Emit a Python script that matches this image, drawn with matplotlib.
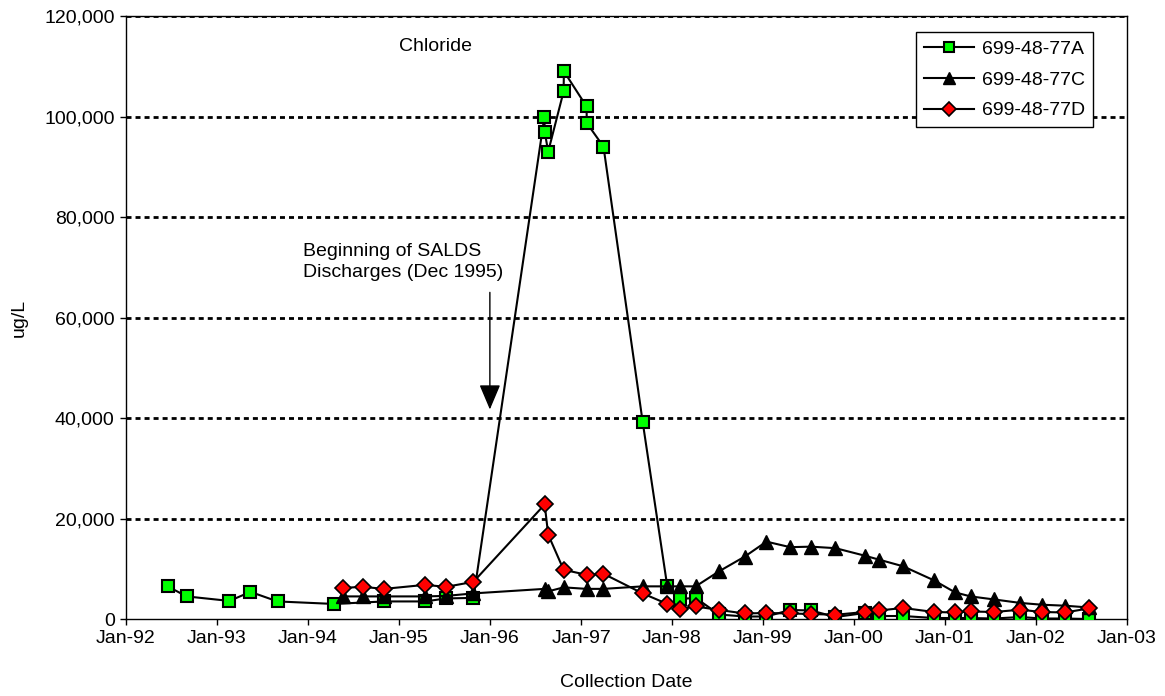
"""
Chloride concentrations at wells 699-48-77A/C/D
"""
import matplotlib
matplotlib.use("Agg")
import matplotlib.pyplot as plt
import matplotlib.dates as mdates
import matplotlib.ticker as mticker
import pandas as pd

plt.rcParams['font.family'] = ['Liberation Sans', 'DejaVu Sans']

# well 699-48-77A
dates_a = ["1992-06-17", "1992-09-01", "1993-02-20", "1993-05-15", "1993-09-01",
           "1994-04-15", "1994-11-03", "1995-04-16", "1995-07-09", "1995-10-27",
           "1996-08-07", "1996-08-08", "1996-08-22", "1996-10-23", "1996-10-24",
           "1997-01-23", "1997-01-24", "1997-04-01", "1997-09-05", "1997-12-13",
           "1998-02-03", "1998-04-06", "1998-07-09", "1998-10-19", "1999-01-15",
           "1999-04-20", "1999-07-13", "1999-10-19", "2000-02-14", "2000-04-12",
           "2000-07-16", "2000-11-17", "2001-02-10", "2001-04-13", "2001-07-16",
           "2001-10-30", "2002-01-23", "2002-04-27", "2002-07-31"]
values_a = [6500, 4500, 3600, 5400, 3500,
            3000, 3500, 3500, 4100, 4200,
            100000, 97000, 93000, 105000, 109000,
            102000, 98700, 94000, 39300, 6500,
            4000, 4200, 900, 500, 500,
            1800, 1700, 400, 1200, 600,
            600, 200, 200, 200, 100,
            400, 100, 100, 0]

# wells C and D were sampled on the same dates
dates_cd = ["1994-05-22", "1994-08-08", "1994-11-03", "1995-04-16", "1995-07-09",
            "1995-10-27", "1996-08-08", "1996-08-22", "1996-10-23", "1997-01-23",
            "1997-04-01", "1997-09-05", "1997-12-13", "1998-02-03", "1998-04-06",
            "1998-07-09", "1998-10-19", "1999-01-15", "1999-04-20", "1999-07-13",
            "1999-10-19", "2000-02-14", "2000-04-12", "2000-07-16", "2000-11-17",
            "2001-02-10", "2001-04-13", "2001-07-16", "2001-10-30", "2002-01-23",
            "2002-04-27", "2002-07-31"]
values_c = [4500, 4500, 4500, 4500, 4600,
            5100, 6000, 5500, 6300, 6000,
            6000, 6500, 6500, 6500, 6500,
            9500, 12400, 15400, 14300, 14400,
            14100, 12600, 11800, 10500, 7700,
            5300, 4500, 3900, 3200, 2850,
            2650, 2300]
values_d = [6200, 6400, 6000, 6800, 6400,
            7400, 22800, 16800, 9800, 8800,
            9000, 5100, 3000, 2000, 2500,
            1800, 1100, 1200, 1100, 1000,
            850, 1400, 1700, 2200, 1400,
            1300, 1500, 1400, 1850, 1400,
            1300, 2100]

labels = ["699-48-77A", "699-48-77C", "699-48-77D"]

FS = 14

fig = plt.figure(figsize=(11.65, 6.96), dpi=100)
ax = fig.add_axes([0.108, 0.1106, 0.8594, 0.8664])

for y in range(20000, 120001, 20000):
    ax.axhline(y, color='k', lw=2, ls=(0, (1.8, 1.45)), zorder=1)

ax.plot(pd.to_datetime(dates_a), values_a, color='k', lw=1.5, marker='s',
        ms=9, mfc='#00ff00', mec='k', mew=1.5, label=labels[0], zorder=3)
ax.plot(pd.to_datetime(dates_cd), values_c, color='k', lw=1.5, marker='^',
        ms=9.5, mfc='k', mec='k', label=labels[1], zorder=4)
ax.plot(pd.to_datetime(dates_cd), values_d, color='k', lw=1.5, marker='D',
        ms=8, mfc='#ff0000', mec='k', mew=1.2, label=labels[2], zorder=5)

ax.set_xlim(pd.Timestamp("1992-01-01"), pd.Timestamp("2003-01-01"))
ax.set_ylim(0, 120000)
ax.xaxis.set_major_locator(mdates.YearLocator())
ax.xaxis.set_major_formatter(mdates.DateFormatter('%b-%y'))
ax.yaxis.set_major_locator(mticker.MultipleLocator(20000))
ax.yaxis.set_major_formatter(mticker.StrMethodFormatter('{x:,.0f}'))
ax.tick_params(direction='out', length=4, width=1, labelsize=FS, pad=4)
ax.tick_params(axis='y', right=False)
for s in ax.spines.values():
    s.set_linewidth(1)

ax.set_xlabel('Collection Date', fontsize=FS, labelpad=19)
ax.set_ylabel('ug/L', fontsize=FS, labelpad=12)

ax.text(pd.Timestamp("1995-01-01"), 114000, 'Chloride', fontsize=FS,
        va='center', ha='left')
ax.text(pd.Timestamp("1993-12-12"), 71000,
        'Beginning of SALDS\nDischarges (Dec 1995)', fontsize=FS,
        va='center', ha='left', linespacing=1.32)
ax.annotate('', xy=(pd.Timestamp("1996-01-01"), 41700),
            xytext=(pd.Timestamp("1996-01-01"), 65000),
            arrowprops=dict(arrowstyle='-|>,head_length=1.3,head_width=0.55',
                            color='k', lw=1, mutation_scale=12,
                            shrinkA=0, shrinkB=0))

leg = ax.legend(loc='upper right', bbox_to_anchor=(0.966, 0.973), fontsize=FS,
                frameon=True, fancybox=False, edgecolor='k', framealpha=1,
                handlelength=2.6, handletextpad=0.4, borderpad=0.4,
                labelspacing=0.68, borderaxespad=0, markerscale=0.85)
leg.get_frame().set_linewidth(1)

plt.savefig('out.png', dpi=100)
